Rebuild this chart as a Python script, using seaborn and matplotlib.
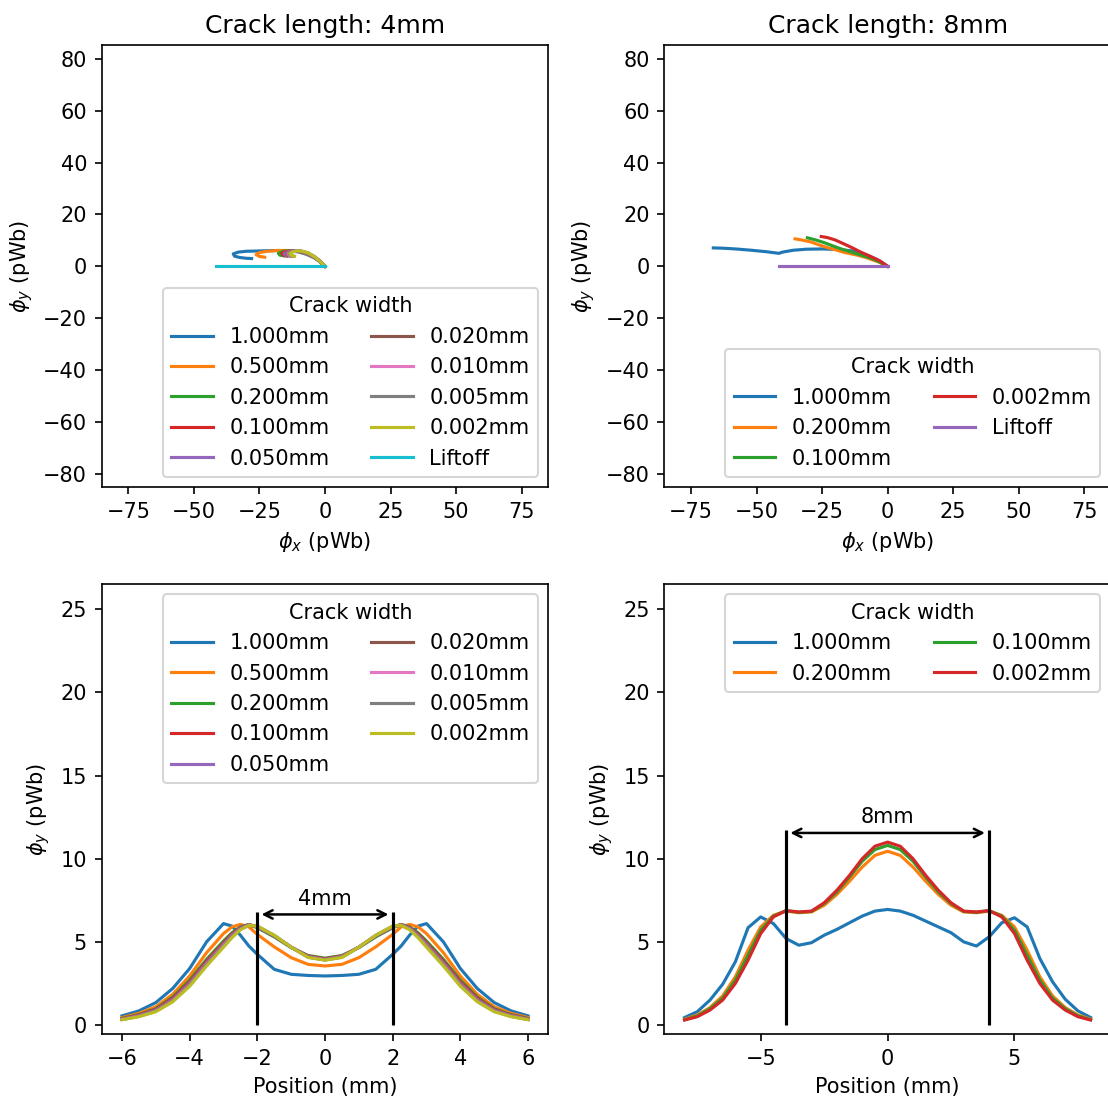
import matplotlib
matplotlib.use("Agg")
import matplotlib.pyplot as plt
import seaborn as sns

# ---------------------------------------------------------------- data
widths_4mm = ["1.000mm", "0.500mm", "0.200mm", "0.100mm", "0.050mm",
              "0.020mm", "0.010mm", "0.005mm", "0.002mm"]
widths_8mm = ["1.000mm", "0.200mm", "0.100mm", "0.002mm"]
liftoff_label = "Liftoff"

# flux loci (phi_x, phi_y) for the 4 mm crack
phix_4mm = {
    "1.000mm": [0, -2, -4, -7, -10, -14, -18, -22, -26, -30, -33, -35, -34.5, -32.5, -30, -28],
    "0.500mm": [0, -2, -4, -7, -10, -14, -18, -22, -25, -26.3, -25, -23],
    "0.200mm": [0, -2, -4, -7, -10, -13, -16, -17.8, -17.2, -15.5],
    "0.100mm": [0, -2, -4, -7, -10, -12.5, -15, -16.5, -16, -14.5],
    "0.050mm": [0, -2, -4, -7, -9.5, -12, -14.2, -15.5, -15, -13.5],
    "0.020mm": [0, -2, -4, -6.5, -9, -11.5, -13.5, -14.7, -14.2, -12.8],
    "0.010mm": [0, -2, -4, -6.5, -9, -11, -13, -14.2, -13.7, -12.3],
    "0.005mm": [0, -2, -4, -6.3, -8.8, -10.8, -12.7, -13.8, -13.3, -12],
    "0.002mm": [0, -2, -4, -6.2, -8.5, -10.5, -12.3, -13.4, -12.9, -11.6],
}
phiy_4mm = {
    "1.000mm": [0, 1.8, 3.2, 4.6, 5.5, 6.0, 6.1, 6.0, 5.9, 5.8, 5.5, 4.8, 3.9, 3.4, 3.1, 3.0],
    "0.500mm": [0, 1.9, 3.4, 4.8, 5.7, 6.1, 6.1, 5.8, 5.3, 4.5, 3.8, 3.5],
    "0.200mm": [0, 2.0, 3.6, 5.0, 5.8, 6.0, 5.8, 5.0, 4.3, 4.0],
    "0.100mm": [0, 2.0, 3.6, 5.1, 5.8, 6.0, 5.7, 5.0, 4.3, 3.95],
    "0.050mm": [0, 2.0, 3.6, 5.1, 5.8, 6.0, 5.6, 4.9, 4.2, 3.95],
    "0.020mm": [0, 2.0, 3.7, 5.1, 5.8, 6.0, 5.6, 4.9, 4.2, 3.92],
    "0.010mm": [0, 2.0, 3.7, 5.1, 5.8, 6.0, 5.6, 4.9, 4.2, 3.9],
    "0.005mm": [0, 2.0, 3.7, 5.1, 5.8, 6.0, 5.6, 4.9, 4.2, 3.9],
    "0.002mm": [0, 2.0, 3.7, 5.1, 5.8, 6.0, 5.6, 4.9, 4.2, 3.88],
}
liftoff_4mm_x = [-41.4, -30, -20, -10, 0]
liftoff_4mm_y = [0, 0, 0, 0, 0]

# flux loci (phi_x, phi_y) for the 8 mm crack
phix_8mm = {
    "1.000mm": [0, -2, -4, -7, -10, -14, -19, -25, -31, -36, -40, -41.5, -46, -52, -58, -63, -66.5],
    "0.200mm": [0, -3, -8.3, -12, -16.3, -20, -22.9, -26, -29.3, -32.5, -35.3],
    "0.100mm": [0, -3, -6, -9.8, -13.5, -17.7, -21, -24.1, -27.5, -30.6],
    "0.002mm": [0, -3, -7, -10.5, -13.6, -17, -20.1, -23, -25.3],
}
phiy_8mm = {
    "1.000mm": [0, 1.4, 2.6, 4.0, 5.1, 6.0, 6.5, 6.7, 6.6, 6.2, 5.5, 5.0, 5.6, 6.2, 6.7, 7.0, 7.1],
    "0.200mm": [0, 1.5, 3.4, 4.4, 5.3, 6.4, 7.2, 8.2, 9.4, 10.1, 10.6],
    "0.100mm": [0, 1.6, 3.0, 4.2, 5.4, 6.7, 7.9, 9.1, 10.2, 11.0],
    "0.002mm": [0, 2.1, 4.0, 5.6, 7.2, 8.8, 10.2, 11.1, 11.5],
}
liftoff_8mm_x = [-41.3, -30, -20, -10, 0]
liftoff_8mm_y = [0, 0, 0, 0, 0]

# phi_y scans across the 4 mm crack
pos_4mm = [-6, -5.5, -5, -4.5, -4, -3.5, -3, -2.75, -2.5, -2.25, -2, -1.5, -1, -0.5, 0,
           0.5, 1, 1.5, 2, 2.25, 2.5, 2.75, 3, 3.5, 4, 4.5, 5, 5.5, 6]
scan_4mm = {
    "1.000mm": [0.55, 0.85, 1.35, 2.2, 3.4, 5.0, 6.1, 5.95, 5.4, 4.75, 4.25, 3.35, 3.05, 2.98, 2.95,
                2.98, 3.05, 3.35, 4.25, 4.75, 5.4, 5.95, 6.1, 5.0, 3.4, 2.2, 1.35, 0.85, 0.55],
    "0.500mm": [0.45, 0.7, 1.1, 1.85, 2.95, 4.35, 5.5, 5.9, 6.05, 5.9, 5.45, 4.7, 4.05, 3.65, 3.55,
                3.65, 4.05, 4.7, 5.45, 5.9, 6.05, 5.9, 5.5, 4.35, 2.95, 1.85, 1.1, 0.7, 0.45],
    "0.200mm": [0.4, 0.62, 0.98, 1.68, 2.7, 3.95, 5.05, 5.55, 5.9, 6.05, 5.85, 5.3, 4.65, 4.18, 4.02,
                4.18, 4.65, 5.3, 5.85, 6.05, 5.9, 5.55, 5.05, 3.95, 2.7, 1.68, 0.98, 0.62, 0.4],
    "0.100mm": [0.38, 0.6, 0.94, 1.62, 2.6, 3.85, 4.95, 5.48, 5.86, 6.04, 5.88, 5.35, 4.68, 4.15, 3.98,
                4.15, 4.68, 5.35, 5.88, 6.04, 5.86, 5.48, 4.95, 3.85, 2.6, 1.62, 0.94, 0.6, 0.38],
    "0.050mm": [0.36, 0.57, 0.9, 1.55, 2.52, 3.76, 4.88, 5.42, 5.83, 6.03, 5.9, 5.36, 4.68, 4.12, 3.95,
                4.12, 4.68, 5.36, 5.9, 6.03, 5.83, 5.42, 4.88, 3.76, 2.52, 1.55, 0.9, 0.57, 0.36],
    "0.020mm": [0.35, 0.55, 0.87, 1.5, 2.46, 3.7, 4.82, 5.37, 5.8, 6.02, 5.92, 5.37, 4.68, 4.1, 3.93,
                4.1, 4.68, 5.37, 5.92, 6.02, 5.8, 5.37, 4.82, 3.7, 2.46, 1.5, 0.87, 0.55, 0.35],
    "0.010mm": [0.34, 0.53, 0.85, 1.46, 2.42, 3.65, 4.78, 5.33, 5.78, 6.01, 5.93, 5.38, 4.68, 4.09, 3.92,
                4.09, 4.68, 5.38, 5.93, 6.01, 5.78, 5.33, 4.78, 3.65, 2.42, 1.46, 0.85, 0.53, 0.34],
    "0.005mm": [0.33, 0.52, 0.83, 1.43, 2.38, 3.61, 4.74, 5.3, 5.76, 6.0, 5.94, 5.39, 4.68, 4.08, 3.91,
                4.08, 4.68, 5.39, 5.94, 6.0, 5.76, 5.3, 4.74, 3.61, 2.38, 1.43, 0.83, 0.52, 0.33],
    "0.002mm": [0.32, 0.5, 0.8, 1.4, 2.33, 3.55, 4.68, 5.25, 5.73, 5.99, 5.95, 5.4, 4.68, 4.06, 3.9,
                4.06, 4.68, 5.4, 5.95, 5.99, 5.73, 5.25, 4.68, 3.55, 2.33, 1.4, 0.8, 0.5, 0.32],
}

# phi_y scans across the 8 mm crack
pos_8mm = [-8, -7.5, -7, -6.5, -6, -5.5, -5, -4.5, -4, -3.5, -3, -2.5, -2, -1.5, -1, -0.5, 0,
           0.5, 1, 1.5, 2, 2.5, 3, 3.5, 4, 4.5, 5, 5.5, 6, 6.5, 7, 7.5, 8]
scan_8mm = {
    "1.000mm": [0.45, 0.8, 1.5, 2.45, 3.8, 5.85, 6.5, 6.1, 5.2, 4.8, 4.95, 5.4, 5.75, 6.15, 6.55, 6.85, 6.95,
                6.85, 6.6, 6.25, 5.9, 5.55, 5.0, 4.75, 5.3, 6.15, 6.45, 5.9, 4.0, 2.6, 1.55, 0.85, 0.45],
    "0.200mm": [0.35, 0.6, 1.05, 1.75, 2.9, 4.5, 5.9, 6.6, 6.85, 6.75, 6.8, 7.2, 7.85, 8.65, 9.5, 10.2, 10.45,
                10.2, 9.5, 8.65, 7.85, 7.2, 6.8, 6.75, 6.85, 6.6, 5.9, 4.5, 2.9, 1.75, 1.05, 0.6, 0.35],
    "0.100mm": [0.32, 0.55, 0.98, 1.62, 2.7, 4.2, 5.7, 6.55, 6.88, 6.78, 6.83, 7.3, 8.0, 8.9, 9.85, 10.55, 10.8,
                10.55, 9.85, 8.9, 8.0, 7.3, 6.83, 6.78, 6.88, 6.55, 5.7, 4.2, 2.7, 1.62, 0.98, 0.55, 0.32],
    "0.002mm": [0.3, 0.5, 0.9, 1.5, 2.5, 3.9, 5.5, 6.5, 6.88, 6.8, 6.85, 7.35, 8.1, 9.0, 10.0, 10.75, 11.0,
                10.75, 10.0, 9.0, 8.1, 7.35, 6.85, 6.8, 6.88, 6.5, 5.5, 3.9, 2.5, 1.5, 0.9, 0.5, 0.3],
}

crack_marks = {"4mm": 2.0, "8mm": 4.0}

# ---------------------------------------------------------------- figure
W, H, DPI = 1108, 1099, 150
fig = plt.figure(figsize=(W / DPI, H / DPI), dpi=DPI)
palette = sns.color_palette("tab10")


def axes_px(left, top, right, bottom):
    return fig.add_axes([left / W, 1 - bottom / H, (right - left) / W, (bottom - top) / H])


ax_tl = axes_px(101.7, 45.3, 548.3, 487.3)
ax_tr = axes_px(664.3, 45.3, 1110.9, 487.3)
ax_bl = axes_px(101.7, 584.0, 548.3, 1034.0)
ax_br = axes_px(664.3, 584.0, 1110.9, 1034.0)


def draw_loci(ax, widths, phix, phiy, lx, ly, title):
    for i, w in enumerate(widths):
        sns.lineplot(x=phix[w], y=phiy[w], sort=False, estimator=None, ax=ax,
                     color=palette[i], label=w, linewidth=1.5)
    sns.lineplot(x=lx, y=ly, sort=False, estimator=None, ax=ax,
                 color=palette[len(widths)], label=liftoff_label, linewidth=1.5)
    ax.set_xlim(-85.2, 85.2)
    ax.set_ylim(-85.3, 85.3)
    ax.set_xticks([-75, -50, -25, 0, 25, 50, 75])
    ax.set_yticks([-80, -60, -40, -20, 0, 20, 40, 60, 80])
    ax.set_xlabel(r"$\phi_x$ (pWb)")
    ax.set_ylabel(r"$\phi_y$ (pWb)")
    ax.set_title(title, fontsize=12)
    ax.legend(title="Crack width", ncol=2, loc="lower right", fontsize=10)


def draw_scans(ax, widths, pos, scan, half, label, xticks, xlim):
    for i, w in enumerate(widths):
        sns.lineplot(x=pos, y=scan[w], sort=False, estimator=None, ax=ax,
                     color=palette[i], label=w, linewidth=1.5)
    top = max(max(scan[w]) for w in widths) + 0.6
    ax.vlines([-half, half], 0, top + 0.1, color="black", linewidth=1.5)
    ax.annotate("", xy=(half, top - 0.05), xytext=(-half, top - 0.05),
                arrowprops=dict(arrowstyle="<->", color="black", linewidth=1.2))
    ax.text(0, top + 0.3, label, ha="center", va="bottom", fontsize=10)
    ax.set_xlim(*xlim)
    ax.set_ylim(-0.54, 26.52)
    ax.set_xticks(xticks)
    ax.set_yticks([0, 5, 10, 15, 20, 25])
    ax.set_xlabel("Position (mm)")
    ax.set_ylabel(r"$\phi_y$ (pWb)")
    ax.legend(title="Crack width", ncol=2, loc="upper right", fontsize=10)


draw_loci(ax_tl, widths_4mm, phix_4mm, phiy_4mm, liftoff_4mm_x, liftoff_4mm_y,
          "Crack length: 4mm")
draw_loci(ax_tr, widths_8mm, phix_8mm, phiy_8mm, liftoff_8mm_x, liftoff_8mm_y,
          "Crack length: 8mm")
draw_scans(ax_bl, widths_4mm, pos_4mm, scan_4mm, crack_marks["4mm"], "4mm",
           [-6, -4, -2, 0, 2, 4, 6], (-6.6, 6.6))
draw_scans(ax_br, widths_8mm, pos_8mm, scan_8mm, crack_marks["8mm"], "8mm",
           [-5, 0, 5], (-8.8, 8.8))

fig.savefig("out.png", dpi=DPI)
